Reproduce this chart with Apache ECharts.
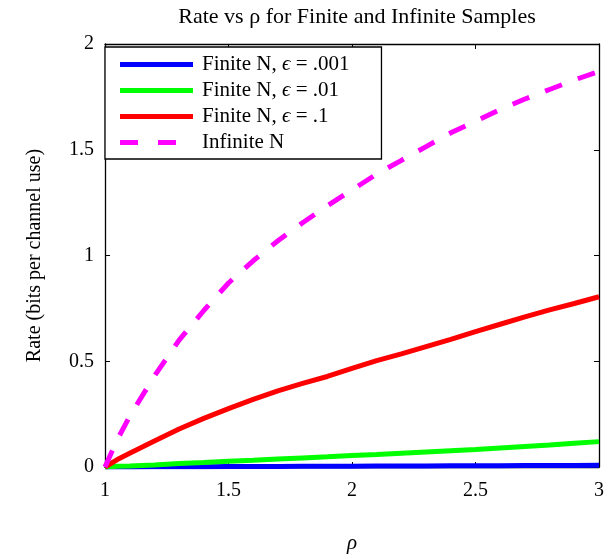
<!DOCTYPE html>
<html><head><meta charset="utf-8">
<script src="https://cdn.jsdelivr.net/npm/echarts@6/dist/echarts.min.js"></script>
<style>html,body{margin:0;padding:0;background:#fff}#c{width:613px;height:559px}</style>
</head><body><div id="c"></div>
<script>
var rho = [1.0, 1.05, 1.1, 1.2, 1.3, 1.4, 1.5, 1.6, 1.7, 1.8, 1.9, 2.0, 2.1, 2.2, 2.3, 2.4, 2.5, 2.6, 2.7, 2.8, 2.9, 3.0];
var rateEps001 = [0, 0.0002, 0.0004, 0.0008, 0.0012, 0.0016, 0.002, 0.0024, 0.0028, 0.0032, 0.0036, 0.004, 0.0044, 0.0048, 0.0052, 0.0056, 0.006, 0.0064, 0.0068, 0.0072, 0.0076, 0.008];
var rateEps01 = [0, 0.003, 0.005, 0.010, 0.016, 0.021, 0.027, 0.032, 0.038, 0.043, 0.048, 0.054, 0.059, 0.065, 0.071, 0.077, 0.083, 0.090, 0.097, 0.104, 0.112, 0.120];
var rateEps1 = [0, 0.035, 0.065, 0.123, 0.180, 0.230, 0.276, 0.320, 0.360, 0.395, 0.428, 0.466, 0.503, 0.535, 0.569, 0.603, 0.640, 0.675, 0.710, 0.743, 0.773, 0.805];
var rateInf = [0, 0.13, 0.24, 0.43, 0.60, 0.74, 0.87, 0.975, 1.07, 1.155, 1.235, 1.31, 1.385, 1.45, 1.515, 1.58, 1.635, 1.69, 1.74, 1.785, 1.83, 1.87];
var seriesNames = ['Finite N, ϵ = .001', 'Finite N, ϵ = .01', 'Finite N, ϵ = .1', 'Infinite N'];
var xTicks = ['1', '1.5', '2', '2.5', '3'];
var yTicks = ['0', '0.5', '1', '1.5', '2'];

function pairs(ys){ return rho.map(function(x,i){ return [x, ys[i]]; }); }
var serif = '"Liberation Serif", "DejaVu Serif", serif';
var chart = echarts.init(document.getElementById('c'));
var tickFmtX = function(v){ var i = Math.round((v-1)/0.5); return xTicks[i] !== undefined ? xTicks[i] : ''; };
var tickFmtY = function(v){ var i = Math.round(v/0.5); return yTicks[i] !== undefined ? yTicks[i] : ''; };
function axisBase(){ return {
  axisLine: {show: true, onZero: false, lineStyle: {color: '#000', width: 1.3}},
  axisTick: {show: true, inside: true, length: 5, lineStyle: {color: '#000', width: 1}},
  splitLine: {show: false}
}; }
function mk(name, data, color, dashed){
  return {
    name: name, type: 'line', data: pairs(data), symbol: 'none', smooth: false,
    lineStyle: {color: color, width: 5, type: dashed ? [18, 17] : 'solid', cap: 'butt'},
    itemStyle: {color: color}, animation: false, z: 2
  };
}
var solidIcon = 'path://M0,0H73V5H0Z';
var dashIcon = 'path://M0,0H18V5H0Z M38,0H56V5H38Z M73,0L73,5L73,5Z';
chart.setOption({
  animation: false,
  title: {text: 'Rate vs ρ for Finite and Infinite Samples', left: 352, top: 1, textAlign: 'center',
    textStyle: {fontFamily: serif, fontSize: 22, fontWeight: 'normal', color: '#000'}},
  grid: {left: 105, right: 14, top: 44, bottom: 86},
  legend: {
    orient: 'vertical', left: 105, top: 47,
    backgroundColor: '#fff', borderColor: '#000', borderWidth: 1.3,
    padding: [7, 32, 6, 15], itemGap: 5, itemWidth: 73, itemHeight: 5,
    itemStyle: {borderWidth: 0},
    formatter: function(n){ return n.replace('ϵ', '{e|ϵ}'); },
    textStyle: {fontFamily: serif, fontSize: 21, lineHeight: 20, color: '#000', padding: [0,0,0,4],
      rich: {e: {fontFamily: serif, fontSize: 21, fontStyle: 'italic', color: '#000'}}},
    data: seriesNames.map(function(n, i){ return {name: n, icon: i === 3 ? dashIcon : solidIcon}; })
  },
  xAxis: [
    Object.assign({type: 'value', min: 1, max: 3, interval: 0.5,
      name: 'ρ', nameLocation: 'middle', nameGap: 66,
      nameTextStyle: {fontFamily: serif, fontSize: 21, fontStyle: 'italic', color: '#000'},
      axisLabel: {fontFamily: serif, fontSize: 20, color: '#000', margin: 14, formatter: tickFmtX}}, axisBase()),
    Object.assign({type: 'value', min: 1, max: 3, interval: 0.5, position: 'top',
      axisLabel: {show: false}}, axisBase())
  ],
  yAxis: [
    Object.assign({type: 'value', min: 0, max: 2, interval: 0.5,
      name: 'Rate (bits per channel use)', nameLocation: 'middle', nameGap: 60, nameRotate: 90,
      nameTextStyle: {fontFamily: serif, fontSize: 20, color: '#000'},
      axisLabel: {fontFamily: serif, fontSize: 20, color: '#000', margin: 11, formatter: tickFmtY}}, axisBase()),
    Object.assign({type: 'value', min: 0, max: 2, interval: 0.5, position: 'right',
      axisLabel: {show: false}}, axisBase())
  ],
  series: [
    mk(seriesNames[0], rateEps001, '#0000ff', false),
    mk(seriesNames[1], rateEps01, '#00ff00', false),
    mk(seriesNames[2], rateEps1, '#ff0000', false),
    mk(seriesNames[3], rateInf, '#ff00ff', true)
  ]
});
</script></body></html>
